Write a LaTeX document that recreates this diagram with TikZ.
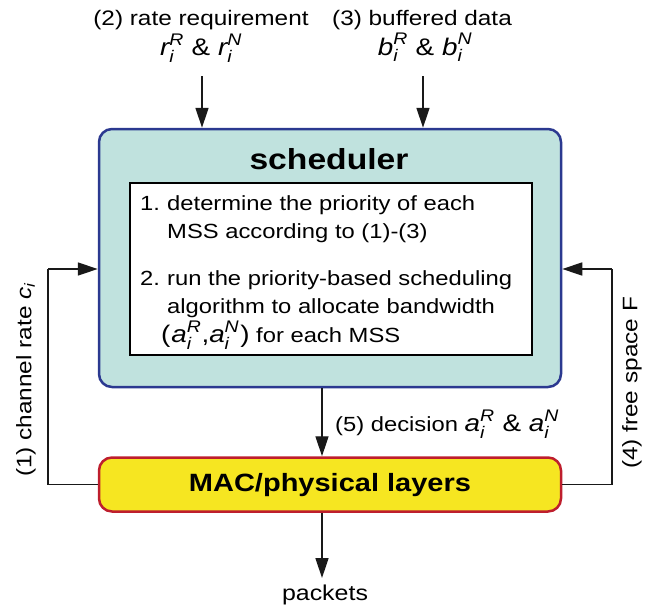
\documentclass[tikz,border=0pt]{standalone}
\usepackage{amsmath}
\usepackage{fontspec}
\setmainfont{Liberation Sans}[FakeStretch=1.16]
\usetikzlibrary{arrows.meta}
\definecolor{teal1}{RGB}{192,226,222}
\definecolor{blue1}{RGB}{43,57,144}
\definecolor{yel1}{RGB}{246,230,33}
\definecolor{red1}{RGB}{190,30,45}
\newcommand{\vv}[2]{\textit{#1}_{\textit{i}}^{\textit{#2}}}
\begin{document}
\begin{tikzpicture}[x=1pt,y=-1pt,
  arr/.style={line width=1.4pt,draw=black!90,-{Triangle[length=20pt,width=13pt]}},
  conn/.style={line width=1.4pt,draw=black!90},
  lbl/.style={font=\fontsize{21}{24}\selectfont,inner sep=0pt},
  itm/.style={font=\fontsize{20.5}{28}\selectfont,inner sep=0pt,align=left,anchor=base west}]
\useasboundingbox (0,0) rectangle (667,608);
\node[draw=blue1,fill=teal1,line width=2.5pt,rounded corners=13pt,minimum width=462pt,minimum height=258pt] (sched) at (330,258) {};
\node[font=\fontsize{29}{32}\selectfont\bfseries,inner sep=0pt,anchor=base] (stitle) at (329,169) {scheduler};
\node[draw=black,fill=white,line width=1.2pt,minimum width=402pt,minimum height=172pt] (inner) at (331,269) {};
\node[itm] (n1) at (140,210) {1.};
\node[itm] (t1) at (167,238) {determine the priority of each\\MSS according to (1)-(3)};
\node[itm] (n2) at (140,285) {2.};
\node[itm] (t2) at (167,313) {run the priority-based scheduling\\algorithm to allocate bandwidth};
\node[itm] (t3) at (161,342) {{\fontsize{24}{28}\selectfont(\kern1pt$\vv{a}{R}$,$\vv{a}{N}$\kern1pt)} for each MSS};
\node[draw=red1,fill=yel1,line width=2.5pt,rounded corners=13pt,minimum width=462pt,minimum height=54pt] (mac) at (330,484.5) {};
\node[font=\fontsize{25}{28}\selectfont\bfseries,inner sep=0pt] (mactxt) at (330,485) {MAC/physical layers};
% top labels
\node[lbl,anchor=base] (l2) at (201,25) {(2) rate requirement};
\node[lbl,anchor=base,font=\fontsize{24}{28}\selectfont] (m2) at (201,55) {$\vv{r}{R}$ \& $\vv{r}{N}$};
\node[lbl,anchor=base] (l3) at (422,25) {(3) buffered data};
\node[lbl,anchor=base,font=\fontsize{24}{28}\selectfont] (m3) at (425,55) {$\vv{b}{R}$ \& $\vv{b}{N}$};
\coordinate (ax2) at (202,76);
\coordinate (ax3) at (423,76);
\draw[arr] (ax2) -- (ax2 |- sched.north);
\draw[arr] (ax3) -- (ax3 |- sched.north);
% side loops
\coordinate (lc) at (48,269);
\coordinate (rc) at (612,269);
\draw[conn] (mac.west) -| (lc);
\draw[arr] (lc) -- (lc -| sched.west);
\draw[conn] (mac.east) -| (rc);
\draw[arr] (rc) -- (rc -| sched.east);
\node[lbl,rotate=90] (l1) at (26,380) {(1) channel rate $\textit{c}_{\textit{i}}$};
\node[lbl,rotate=90] (l4) at (632,383) {(4) free space F};
% decision
\coordinate (dx) at (322,0);
\draw[arr] (sched.south -| dx) -- (mac.north -| dx);
\node[lbl,anchor=base west,font=\fontsize{20.5}{24}\selectfont] (l5) at (335,431) {(5) decision {\fontsize{24}{28}\selectfont$\vv{a}{R}$ \& $\vv{a}{N}$}};
% packets
\coordinate (px) at (322,578);
\draw[arr] (mac.south -| dx) -- (px);
\node[lbl,anchor=base,font=\fontsize{21.5}{24}\selectfont] (pk) at (325,600) {packets};
\end{tikzpicture}
\end{document}
